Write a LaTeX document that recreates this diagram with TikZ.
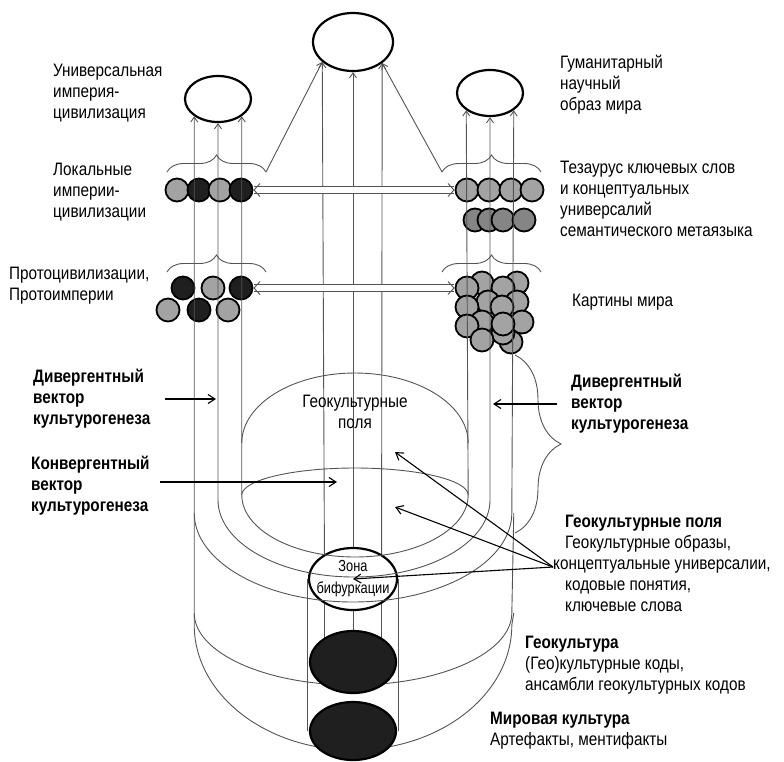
\documentclass[tikz,border=0pt]{standalone}
\usepackage{fontspec}
\setmainfont{Liberation Sans}[FakeStretch=0.85]
\newfontfamily\narrowfont{Liberation Sans}[FakeStretch=0.8]
\usetikzlibrary{shapes.geometric}
\usetikzlibrary{arrows.meta}
\usetikzlibrary{decorations.pathreplacing}

\definecolor{wire}{gray}{0.33}
\definecolor{lite}{gray}{0.64}
\definecolor{deep}{gray}{0.52}
\definecolor{coal}{gray}{0.12}

\begin{document}
\begin{tikzpicture}[x=1pt, y=-1pt,
        every node/.style={font=\fontsize{18}{21}\selectfont},
        orb/.style={draw, ellipse, line width=2.2pt, inner sep=0pt},
        ball/.style={draw, circle, line width=1.8pt, fill=#1, minimum size=23pt, inner sep=0pt},
        wire/.style={draw=wire, line width=0.9pt},
        twin/.style={wire, double distance=5.5pt, {Straight Barb[length=6pt,width=13pt]}-{Straight Barb[length=6pt,width=13pt]}},
        curly/.style={wire, decorate, decoration={brace, amplitude=#1}},
        push/.style={-{Straight Barb[length=7pt,width=9pt]}, line width=1.1pt},
        note/.style={align=left, anchor=west, inner sep=0pt},
        notebf/.style={note, font=\fontsize{18}{21}\selectfont\bfseries},
        >={Straight Barb[length=5pt,width=7pt]}]
    \useasboundingbox (0,0) rectangle (784,761);

    \node[orb, minimum width=80pt, minimum height=58pt] (top) at (353,42) {};
    \node[orb, minimum width=66pt, minimum height=46pt] (uni) at (218,99) {};
    \node[orb, minimum width=66pt, minimum height=46pt] (hum) at (490,93) {};
    \node[orb, minimum width=88pt, minimum height=62pt] (bif) at (353,579) {};
    \coordinate (geoc) at (353,662);
    \coordinate (worc) at (353,731);

    \node[ball=lite] (loc1) at (177,190) {};
    \node[ball=coal] (loc2) at (199,190) {};
    \node[ball=lite] (loc3) at (220,190) {};
    \node[ball=coal] (loc4) at (241,190) {};

    \node[ball=coal] (pro1) at (183,288) {};
    \node[ball=lite] (pro2) at (213,288) {};
    \node[ball=coal] (pro3) at (241,288) {};
    \node[ball=lite] (pro4) at (168,310) {};
    \node[ball=coal] (pro5) at (199,310) {};
    \node[ball=lite] (pro6) at (228,310) {};

    \node[ball=lite] (the1) at (467,190) {};
    \node[ball=lite] (the2) at (489,190) {};
    \node[ball=lite] (the3) at (511,190) {};
    \node[ball=lite] (the4) at (532,190) {};
    \node[ball=deep] (sem1) at (475,220) {};
    \node[ball=deep] (sem2) at (489,220) {};
    \node[ball=deep] (sem3) at (503,220) {};
    \node[ball=deep] (sem4) at (524,220) {};

    \node[ball=lite] (pic2) at (482,283) {};
    \node[ball=lite] (pic4) at (517,283) {};
    \node[ball=lite] (pic1) at (467,288) {};
    \node[ball=lite] (pic3) at (503,288) {};
    \node[ball=lite] (pic8) at (517,302) {};
    \node[ball=lite] (pic6) at (488,302) {};
    \node[ball=lite] (pic5) at (467,307) {};
    \node[ball=lite] (pic7) at (502,307) {};
    \node[ball=lite] (pic15) at (511,342) {};
    \node[ball=lite] (pic14) at (503,333) {};
    \node[ball=lite] (pic10) at (482,322) {};
    \node[ball=lite] (pic12) at (522,322) {};
    \node[ball=lite] (pic9) at (467,326) {};
    \node[ball=lite] (pic11) at (503,324) {};
    \node[ball=lite] (pic13) at (482,340) {};

    \coordinate (lvd) at (0,443);
    \coordinate (lv1) at (0,495);
    \coordinate (lv2) at (0,500);
    \coordinate (lv3) at (0,513);
    \coordinate (lv4) at (0,613);
    \coordinate (lv5) at (0,625);

    \draw[wire, <->] (uni.324) -- (uni.324 |- lv1) arc[start angle=180, end angle=360, x radius=113.2pt, y radius=62pt] -- (hum.216);
    \draw[wire, <->] (uni.south) -- (uni.south |- lv2) arc[start angle=180, end angle=360, x radius=136pt, y radius=77pt] -- (hum.south);
    \draw[wire, <->] (uni.216) -- (uni.216 |- lv3) arc[start angle=180, end angle=360, x radius=158.8pt, y radius=89pt] -- (hum.324);
    \draw[wire] (uni.216 |- lv3) -- (uni.216 |- lv4) arc[start angle=180, end angle=360, x radius=158.8pt, y radius=72pt] -- (hum.324 |- lv3);
    \draw[wire] (uni.216 |- lv4) -- (uni.216 |- lv5) arc[start angle=180, end angle=360, x radius=158.8pt, y radius=125pt] -- (hum.324 |- lv4);
    \draw[wire] (uni.324 |- lvd) arc[start angle=180, end angle=0, x radius=113.2pt, y radius=70pt];
    \draw[wire] (uni.324 |- lv1) arc[start angle=180, end angle=0, x radius=113.2pt, y radius=27pt];

    \draw[wire, ->] (bif.139) -- (top.213);
    \draw[wire, ->] (bif.north) -- (top.south);
    \draw[wire, ->] (bif.41) -- (top.324);
    \draw[wire] (bif.221) -- (bif.221 |- geoc);
    \draw[wire] (bif.south) -- (geoc);
    \draw[wire] (bif.319) -- (bif.319 |- geoc);
    \draw[wire] (bif.west) -- (bif.west |- worc);
    \draw[wire] (bif.east) -- (bif.east |- worc);

    \coordinate (bl1) at (167,172);
    \coordinate (bl2) at (266,172);
    \coordinate (br1) at (442,172);
    \coordinate (br2) at (541,172);
    \coordinate (bl3) at (167,272);
    \coordinate (bl4) at (266,272);
    \coordinate (br3) at (442,272);
    \coordinate (br4) at (541,272);
    \coordinate (bv1) at (515,355);
    \coordinate (bv2) at (515,533);
    \draw[curly=17pt] (bl1) -- (bl2);
    \draw[curly=17pt] (br1) -- (br2);
    \draw[curly=17pt] (bl3) -- (bl4);
    \draw[curly=17pt] (br3) -- (br4);
    \draw[curly=46pt] (bv1) -- (bv2);
    \draw[wire, ->] (bl2) -- (top.213);
    \draw[wire, ->] (br1) -- (top.324);

    \draw[twin] (loc4) -- (the1);
    \draw[twin] (pro3) -- (pic1);

    \node[note] (tuni) at (53,93) {Универсальная\\империя-\\цивилизация};
    \node[note] (tloc) at (53,192) {Локальные\\империи-\\цивилизации};
    \node[note] (tpro) at (9,286) {Протоцивилизации,\\Протоимперии};
    \node[note] (thum) at (560,85) {Гуманитарный\\научный\\образ мира};
    \node[note] (tthe) at (560,199) {Тезаурус ключевых слов\\и концептуальных\\универсалий\\семантического метаязыка};
    \node[note] (tpic) at (572,302) {Картины мира};
    \node[notebf] (tdivl) at (33,399) {Дивергентный\\вектор\\культурогенеза};
    \node[notebf] (tconv) at (31,486) {Конвергентный\\вектор\\культурогенеза};
    \node[notebf] (tdivr) at (571,404) {Дивергентный\\вектор\\культурогенеза};
    \node[align=center] (tfield) at (355,412) {Геокультурные\\поля};
    \node[note] (tgf) at (565,563) {\textbf{Геокультурные поля}\\Геокультурные образы,\\\hspace*{-12pt}концептуальные универсалии,\\кодовые понятия,\\ключевые слова};
    \node[note] (tgeo) at (525,665) {\textbf{Геокультура}\\(Гео)культурные коды,\\ансамбли геокультурных кодов};
    \node[note] (twor) at (490,731) {\textbf{Мировая культура}\\Артефакты, ментифакты};

    \coordinate (cv) at (337,482);
    \coordinate (hub) at (553,567);
    \coordinate (gf1) at (395,452);
    \coordinate (gf2) at (395,507);
    \draw[push, shorten <=14pt, shorten >=2pt] (tdivl.east) -- (uni.south |- tdivl.east);
    \draw[push, shorten <=10pt] (tconv.east |- cv) -- (cv);
    \draw[push, shorten <=14pt, shorten >=3pt] (tdivr.west) -- (hum.south |- tdivr.west);
    \draw[push] (hub) -- (gf1);
    \draw[push] (hub) -- (gf2);
    \draw[push] (hub) -- (bif.center);

    \node[orb, fill=coal, minimum width=86pt, minimum height=62pt] (geo) at (geoc) {};
    \node[orb, fill=coal, minimum width=86pt, minimum height=58pt] (wor) at (worc) {};
    \node[font=\narrowfont\fontsize{16}{22}\selectfont, align=center] (tbif) at (bif) {Зона\\бифуркации};
\end{tikzpicture}
\end{document}
